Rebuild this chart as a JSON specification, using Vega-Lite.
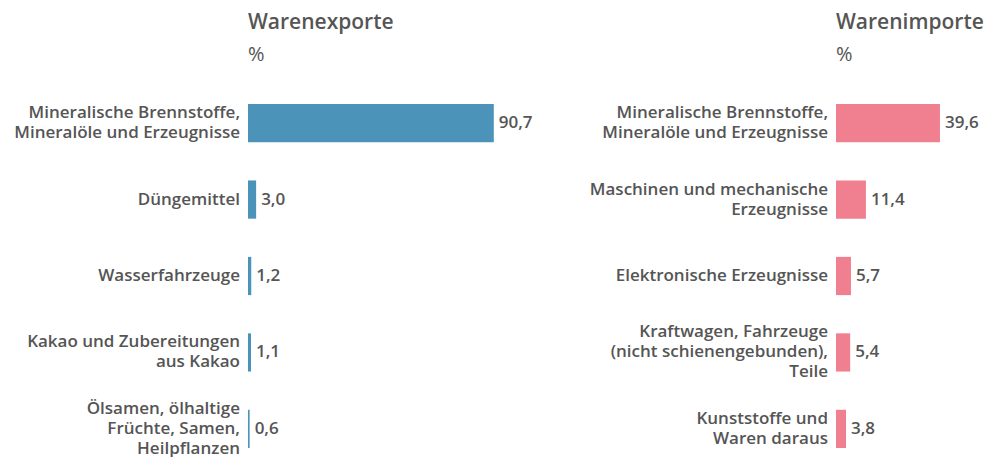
{
  "$schema": "https://vega.github.io/schema/vega-lite/v6.json",
  "padding": {"left": 14, "top": 12, "right": 0, "bottom": 0},
  "background": "white",
  "bounds": "flush",
  "datasets": {
    "exporte": [
      {"ware": "Mineralische Brennstoffe,|Mineralöle und Erzeugnisse", "anteil": 90.7},
      {"ware": "Düngemittel", "anteil": 3.0},
      {"ware": "Wasserfahrzeuge", "anteil": 1.2},
      {"ware": "Kakao und Zubereitungen|aus Kakao", "anteil": 1.1},
      {"ware": "Ölsamen, ölhaltige|Früchte, Samen,|Heilpflanzen", "anteil": 0.6}
    ],
    "importe": [
      {"ware": "Mineralische Brennstoffe,|Mineralöle und Erzeugnisse", "anteil": 39.6},
      {"ware": "Maschinen und mechanische|Erzeugnisse", "anteil": 11.4},
      {"ware": "Elektronische Erzeugnisse", "anteil": 5.7},
      {"ware": "Kraftwagen, Fahrzeuge|(nicht schienengebunden),|Teile", "anteil": 5.4},
      {"ware": "Kunststoffe und|Waren daraus", "anteil": 3.8}
    ]
  },
  "spacing": 288,
  "hconcat": [
    {
      "data": {"name": "exporte"},
      "transform": [{"calculate": "length(split(datum.ware, '|'))", "as": "zeilen"}],
      "width": 300,
      "height": 344,
      "title": {"text": "Warenexporte", "subtitle": "%"},
      "encoding": {
        "y": {"field": "ware", "type": "nominal", "sort": null,
              "scale": {"paddingInner": 0.5, "paddingOuter": 0}, "axis": null}
      },
      "layer": [
        {"mark": {"type": "bar", "color": "#4c93b9"},
         "encoding": {"x": {"field": "anteil", "type": "quantitative", "scale": {"domain": [0, 110.7], "nice": false, "zero": true}, "axis": null}}},
        {"mark": {"type": "text", "align": "left", "baseline": "middle", "dx": 5, "fontSize": 17, "fontWeight": 600, "color": "#555555", "font": "Open Sans"},
         "encoding": {"x": {"field": "anteil", "type": "quantitative"},
                      "text": {"field": "anteil", "type": "quantitative", "format": ".1f"}}},
        {"transform": [{"filter": "datum.zeilen == 1"}],
         "mark": {"type": "text", "align": "right", "baseline": "middle", "dx": -8, "dy": 0, "lineBreak": "|", "lineHeight": 20, "fontSize": 17, "fontWeight": 600, "color": "#555555", "font": "Open Sans"},
         "encoding": {"x": {"datum": 0, "type": "quantitative"}, "text": {"field": "ware", "type": "nominal"}}},
        {"transform": [{"filter": "datum.zeilen == 2"}],
         "mark": {"type": "text", "align": "right", "baseline": "middle", "dx": -8, "dy": -10, "lineBreak": "|", "lineHeight": 20, "fontSize": 17, "fontWeight": 600, "color": "#555555", "font": "Open Sans"},
         "encoding": {"x": {"datum": 0, "type": "quantitative"}, "text": {"field": "ware", "type": "nominal"}}},
        {"transform": [{"filter": "datum.zeilen == 3"}],
         "mark": {"type": "text", "align": "right", "baseline": "middle", "dx": -8, "dy": -20, "lineBreak": "|", "lineHeight": 20, "fontSize": 17, "fontWeight": 600, "color": "#555555", "font": "Open Sans"},
         "encoding": {"x": {"datum": 0, "type": "quantitative"}, "text": {"field": "ware", "type": "nominal"}}}
      ]
    },
    {
      "data": {"name": "importe"},
      "transform": [{"calculate": "length(split(datum.ware, '|'))", "as": "zeilen"}],
      "width": 152,
      "height": 344,
      "title": {"text": "Warenimporte", "subtitle": "%"},
      "encoding": {
        "y": {"field": "ware", "type": "nominal", "sort": null,
              "scale": {"paddingInner": 0.5, "paddingOuter": 0}, "axis": null}
      },
      "layer": [
        {"mark": {"type": "bar", "color": "#f07f8f"},
         "encoding": {"x": {"field": "anteil", "type": "quantitative", "scale": {"domain": [0, 57.9], "nice": false, "zero": true}, "axis": null}}},
        {"mark": {"type": "text", "align": "left", "baseline": "middle", "dx": 5, "fontSize": 17, "fontWeight": 600, "color": "#555555", "font": "Open Sans"},
         "encoding": {"x": {"field": "anteil", "type": "quantitative"},
                      "text": {"field": "anteil", "type": "quantitative", "format": ".1f"}}},
        {"transform": [{"filter": "datum.zeilen == 1"}],
         "mark": {"type": "text", "align": "right", "baseline": "middle", "dx": -8, "dy": 0, "lineBreak": "|", "lineHeight": 20, "fontSize": 17, "fontWeight": 600, "color": "#555555", "font": "Open Sans"},
         "encoding": {"x": {"datum": 0, "type": "quantitative"}, "text": {"field": "ware", "type": "nominal"}}},
        {"transform": [{"filter": "datum.zeilen == 2"}],
         "mark": {"type": "text", "align": "right", "baseline": "middle", "dx": -8, "dy": -10, "lineBreak": "|", "lineHeight": 20, "fontSize": 17, "fontWeight": 600, "color": "#555555", "font": "Open Sans"},
         "encoding": {"x": {"datum": 0, "type": "quantitative"}, "text": {"field": "ware", "type": "nominal"}}},
        {"transform": [{"filter": "datum.zeilen == 3"}],
         "mark": {"type": "text", "align": "right", "baseline": "middle", "dx": -8, "dy": -20, "lineBreak": "|", "lineHeight": 20, "fontSize": 17, "fontWeight": 600, "color": "#555555", "font": "Open Sans"},
         "encoding": {"x": {"datum": 0, "type": "quantitative"}, "text": {"field": "ware", "type": "nominal"}}}
      ]
    }
  ],
  "resolve": {"scale": {"x": "independent", "y": "independent"}},
  "config": {
    "locale": {"number": {"decimal": ",", "thousands": ".", "grouping": [3], "currency": ["", " €"]}},
    "view": {"stroke": null},
    "font": "Open Sans",
    "title": {"anchor": "start", "frame": "group", "font": "Open Sans", "fontSize": 21, "fontWeight": 600, "color": "#555555",
              "subtitleFont": "Open Sans", "subtitleFontSize": 20, "subtitleColor": "#555555", "subtitlePadding": 12, "offset": 39}
  }
}
